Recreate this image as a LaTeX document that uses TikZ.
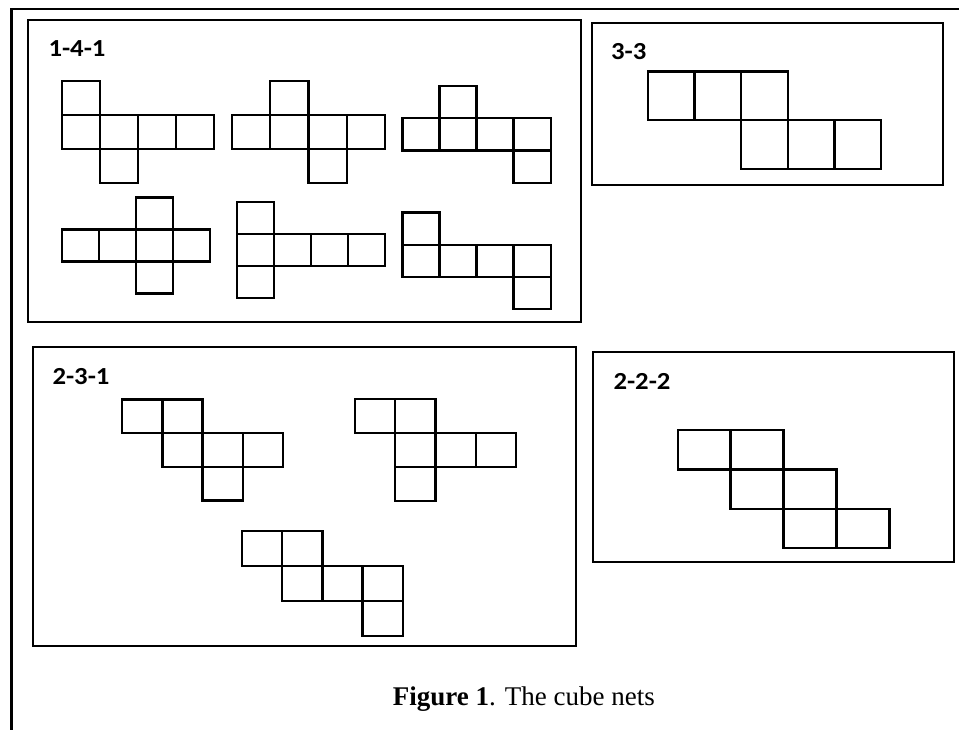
\documentclass[tikz,border=0pt]{standalone}
\usepackage{fontspec}
\setmainfont{Liberation Serif}
\newfontfamily\lblfont{Carlito}
\begin{document}
\begin{tikzpicture}[x=1pt,y=-1pt,
  groupbox/.style={draw=black,line width=2.2pt},
  netline/.style={draw=black,line width=2.4pt,line join=miter},
  grouplabel/.style={anchor=base west,inner sep=0pt,font=\lblfont\bfseries\fontsize{24.5}{25}\selectfont},
  outerline/.style={draw=black,line width=2.2pt}]
\useasboundingbox (0,0) rectangle (959,730);
% outer frame
\coordinate (fbl) at (11.5,730);
\coordinate (ftl) at (11.5,9);
\coordinate (ftr) at (959,9);
\draw[outerline] (fbl) -- (ftl) -- (ftr);
% group boxes
\draw[groupbox] (28.3,20) rectangle (580.7,321.7);
\draw[groupbox] (591.7,23.3) rectangle (943.3,185);
\draw[groupbox] (32.7,347.3) rectangle (576,646);
\draw[groupbox] (593.3,351.7) rectangle (954.3,561.7);
% labels
\node[grouplabel] (l141) at (48.3,56.7) {\scalebox{1.09}[1]{1-4-1}};
\node[grouplabel] (l33) at (611,60) {\scalebox{1.09}[1]{3-3}};
\node[grouplabel] (l231) at (52.3,384) {\scalebox{1.09}[1]{2-3-1}};
\node[grouplabel] (l222) at (613.3,389) {\scalebox{1.09}[1]{2-2-2}};
% nets: origin, cell width, cell height, cells
\newcommand{\cubenet}[4]{%
  \begin{scope}[shift={#1},x=#2pt,y=-#3pt]
    \foreach \cc/\rr in {#4} \draw[netline] (\cc,\rr) rectangle ++(1,1);
  \end{scope}}
% 1-4-1
\cubenet{(61.7,81)}{38.1}{34}{0/0,0/1,1/1,2/1,3/1,1/2}
\cubenet{(232,81)}{38.25}{34}{1/0,0/1,1/1,2/1,3/1,2/2}
\cubenet{(402.3,86)}{37.1}{32.3}{1/0,0/1,1/1,2/1,3/1,3/2}
\cubenet{(61.7,197.5)}{37}{32}{2/0,0/1,1/1,2/1,3/1,2/2}
\cubenet{(237,202)}{37}{32}{0/0,0/1,1/1,2/1,3/1,0/2}
\cubenet{(402.3,212.7)}{37.1}{32.1}{0/0,0/1,1/1,2/1,3/1,3/2}
% 3-3
\cubenet{(647.7,71.7)}{46.7}{48.6}{0/0,1/0,2/0,2/1,3/1,4/1}
% 2-3-1
\cubenet{(122,399.3)}{40.3}{33.7}{0/0,1/0,1/1,2/1,3/1,2/2}
\cubenet{(355,399)}{40.25}{33.9}{0/0,1/0,1/1,2/1,3/1,1/2}
\cubenet{(242,531)}{40.2}{35}{0/0,1/0,1/1,2/1,3/1,3/2}
% 2-2-2
\cubenet{(677.7,430)}{52.9}{39.4}{0/0,1/0,1/1,2/1,2/2,3/2}
% caption
\node[anchor=base west,inner sep=0pt,font=\fontsize{27}{29}\selectfont] (cap) at (392.7,705) {\textbf{Figure 1}. The cube nets};
\end{tikzpicture}
\end{document}
